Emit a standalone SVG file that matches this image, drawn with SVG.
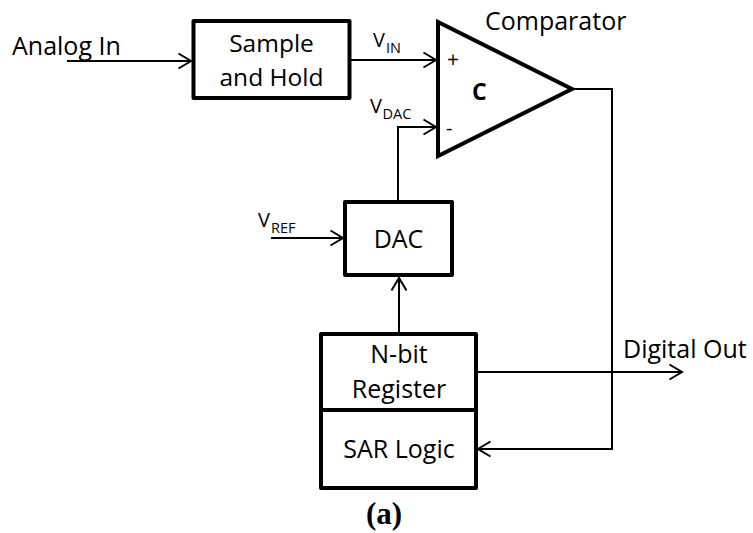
<svg xmlns="http://www.w3.org/2000/svg" width="753" height="533" viewBox="0 0 753 533">
<defs>
<style>
.box{fill:#fff;stroke:#000;stroke-width:4;stroke-linejoin:round}
.w{fill:none;stroke:#000;stroke-width:2}
.t{font-family:"Open Sans","Liberation Sans",sans-serif;font-size:25px;fill:#000}
.c{text-anchor:middle}
.v{font-family:"Open Sans","Liberation Sans",sans-serif;font-size:20px;fill:#000}
.s{font-family:"Open Sans","Liberation Sans",sans-serif;font-size:14.5px;fill:#000}
</style>
<marker id="arr" markerUnits="userSpaceOnUse" markerWidth="18" markerHeight="18" refX="14" refY="9" orient="auto" viewBox="0 0 18 18">
<path d="M1.5,1.5 L14,9 L1.5,16.5" fill="none" stroke="#000" stroke-width="2"/>
</marker>
</defs>
<rect width="753" height="533" fill="#fff"/>
<g id="connectors">
<path class="w" d="M67,61 H191" marker-end="url(#arr)"/>
<path class="w" d="M351,60 H436" marker-end="url(#arr)"/>
<path class="w" d="M398,200 V127 H436" marker-end="url(#arr)"/>
<path class="w" d="M271,238 H343" marker-end="url(#arr)"/>
<path class="w" d="M399,332 V278" marker-end="url(#arr)"/>
<path class="w" d="M573,89 H612 V449 H478" marker-end="url(#arr)"/>
<path class="w" d="M478,372 H682" marker-end="url(#arr)"/>
</g>
<g id="analog-in">
<text class="t" x="12" y="55">Analog In</text>
</g>
<g id="sample-hold">
<rect class="box" x="193.5" y="21" width="156" height="77"/>
<text class="t c" x="271.5" y="52" style="font-size:24.5px">Sample</text>
<text class="t c" x="271.5" y="86" style="font-size:24.5px">and Hold</text>
</g>
<g id="vin-label">
<text class="v" x="373" y="47">V</text>
<text class="s" x="386" y="53">IN</text>
</g>
<g id="comparator">
<path class="box" d="M438,22 L438,156 L572,89 Z" style="stroke-linejoin:miter"/>
<text class="t" x="485" y="30">Comparator</text>
<text class="t c" x="453" y="67" style="font-size:21px">+</text>
<text class="t" x="472" y="100" style="font-size:23px;font-weight:bold">C</text>
<text class="t" x="446" y="135" style="font-size:20px">-</text>
</g>
<g id="vdac-label">
<text class="v" x="370" y="113">V</text>
<text class="s" x="382.5" y="119">DAC</text>
</g>
<g id="vref-label">
<text class="v" x="258" y="227">V</text>
<text class="s" x="271" y="233">REF</text>
</g>
<g id="dac">
<rect class="box" x="345" y="202" width="107" height="73"/>
<text class="t c" x="398.5" y="248">DAC</text>
</g>
<g id="register">
<rect class="box" x="321" y="334" width="155" height="76"/>
<text class="t c" x="399" y="363">N-bit</text>
<text class="t c" x="399" y="398">Register</text>
</g>
<g id="sar-logic">
<rect class="box" x="321" y="410" width="155" height="78"/>
<text class="t c" x="399" y="458">SAR Logic</text>
</g>
<g id="digital-out">
<text class="t" x="623" y="358">Digital Out</text>
</g>
<g id="caption">
<text x="384" y="524" text-anchor="middle" style="font-family:'Liberation Serif',serif;font-size:31px;font-weight:bold">(a)</text>
</g>
</svg>
